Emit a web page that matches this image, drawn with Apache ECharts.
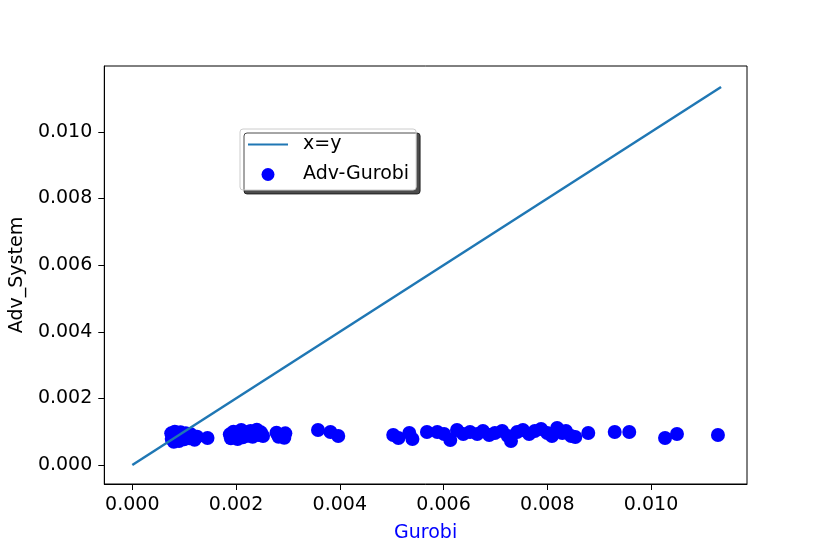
<!DOCTYPE html>
<html>
<head>
<meta charset="utf-8">
<script src="https://cdn.jsdelivr.net/npm/echarts@6/dist/echarts.min.js"></script>
<style>html,body{margin:0;padding:0;background:#fff}#c{width:830px;height:554px}</style>
</head>
<body>
<div id="c"></div>
<script>
const xTicks = [0, 0.002, 0.004, 0.006, 0.008, 0.010];
const yTicks = [0, 0.002, 0.004, 0.006, 0.008, 0.010];
const lineX = [0, 0.01135];
const lineY = [0, 0.01135];
const gurobiX = [
  0.00075, 0.00076, 0.00078, 0.00080, 0.00082, 0.00085, 0.00088, 0.00090, 0.00093, 0.00097,
  0.00100, 0.00103, 0.00107, 0.00110, 0.00113, 0.00117, 0.00120, 0.00125, 0.00145,
  0.00188, 0.00190, 0.00195, 0.00200, 0.00203, 0.00207, 0.00210, 0.00213, 0.00217, 0.00220,
  0.00224, 0.00228, 0.00232, 0.00236, 0.00240, 0.00244, 0.00248, 0.00252,
  0.00278, 0.00282, 0.00287, 0.00293, 0.00295,
  0.00358, 0.00382, 0.00397,
  0.00503, 0.00513, 0.00534, 0.00540, 0.00568, 0.00588, 0.00601, 0.00613, 0.00626, 0.00638,
  0.00651, 0.00665, 0.00676, 0.00688, 0.00699, 0.00713, 0.00724, 0.00730, 0.00742, 0.00753,
  0.00765, 0.00776, 0.00788, 0.00800, 0.00809, 0.00819, 0.00829, 0.00836, 0.00846, 0.00854,
  0.00879, 0.00930, 0.00958, 0.01027, 0.01050, 0.01129
];
const advY = [
  0.00095, 0.00078, 0.00088, 0.00070, 0.00100, 0.00082, 0.00093, 0.00072, 0.00098, 0.00085,
  0.00077, 0.00095, 0.00088, 0.00080, 0.00092, 0.00083, 0.00076, 0.00085, 0.00081,
  0.00092, 0.00080, 0.00100, 0.00087, 0.00078, 0.00095, 0.00105, 0.00083, 0.00092, 0.00098,
  0.00088, 0.00102, 0.00085, 0.00095, 0.00106, 0.00090, 0.00098, 0.00087,
  0.00097, 0.00085, 0.00090, 0.00082, 0.00095,
  0.00105, 0.00099, 0.00087,
  0.00090, 0.00081, 0.00096, 0.00078, 0.00099, 0.00099, 0.00093, 0.00075, 0.00105, 0.00093,
  0.00099, 0.00093, 0.00102, 0.00090, 0.00096, 0.00102, 0.00087, 0.00072, 0.00099, 0.00105,
  0.00093, 0.00102, 0.00108, 0.00096, 0.00087, 0.00111, 0.00096, 0.00102, 0.00087, 0.00084,
  0.00096, 0.00099, 0.00099, 0.00081, 0.00093, 0.00090
];

const chart = echarts.init(document.getElementById('c'), null, {renderer: 'canvas'});
const font = 'DejaVu Sans';
const fs = 19;
const fmt = v => v.toFixed(3);
chart.setOption({
  animation: false,
  backgroundColor: '#fff',
  grid: {left: 104, right: 83, top: 66, bottom: 70, show: true, borderColor: '#000', borderWidth: 1, backgroundColor: 'transparent'},
  xAxis: {
    type: 'value', min: -0.00054, max: 0.01185,
    name: 'Gurobi', nameLocation: 'middle', nameGap: 40,
    nameTextStyle: {color: '#0000ff', fontFamily: font, fontSize: fs},
    axisLine: {show: true, onZero: false, lineStyle: {color: '#000', width: 1}},
    axisTick: {show: true, length: 6, customValues: xTicks, lineStyle: {color: '#000'}},
    axisLabel: {customValues: xTicks, formatter: fmt, color: '#000', fontFamily: font, fontSize: fs, margin: 12},
    splitLine: {show: false}
  },
  yAxis: {
    type: 'value', min: -0.00057, max: 0.01198,
    name: 'Adv_System', nameLocation: 'middle', nameGap: 77,
    nameTextStyle: {color: '#000', fontFamily: font, fontSize: fs},
    axisLine: {show: true, onZero: false, lineStyle: {color: '#000', width: 1}},
    axisTick: {show: true, length: 6, customValues: yTicks, lineStyle: {color: '#000'}},
    axisLabel: {customValues: yTicks, formatter: fmt, color: '#000', fontFamily: font, fontSize: fs, margin: 12},
    splitLine: {show: false}
  },
  legend: {
    left: 240, top: 129, orient: 'vertical',
    backgroundColor: '#fff', borderColor: '#cccccc', borderWidth: 1, borderRadius: 3,
    shadowColor: 'rgba(0,0,0,0.7)', shadowOffsetX: 4, shadowOffsetY: 4, shadowBlur: 0,
    padding: [6, 7, 6, 8], itemGap: 11, itemWidth: 40, itemHeight: 13,
    textStyle: {fontFamily: font, fontSize: fs, color: '#000', padding: [0, 0, 0, 10]},
    data: [
      {name: 'x=y', icon: 'path://M0,0 L40,0 L40,2 L0,2 Z', itemStyle: {color: '#1f77b4'}},
      {name: 'Adv-Gurobi', icon: 'circle'}
    ]
  },
  series: [
    {
      name: 'x=y', type: 'line', showSymbol: false, symbol: 'none',
      data: lineX.map((x, i) => [x, lineY[i]]),
      lineStyle: {color: '#1f77b4', width: 2.5}, itemStyle: {color: '#1f77b4'}, z: 2
    },
    {
      name: 'Adv-Gurobi', type: 'scatter', symbolSize: 14,
      data: gurobiX.map((x, i) => [x, advY[i]]),
      itemStyle: {color: '#0000ff', opacity: 1}, z: 1
    }
  ]
});
</script>
</body>
</html>
